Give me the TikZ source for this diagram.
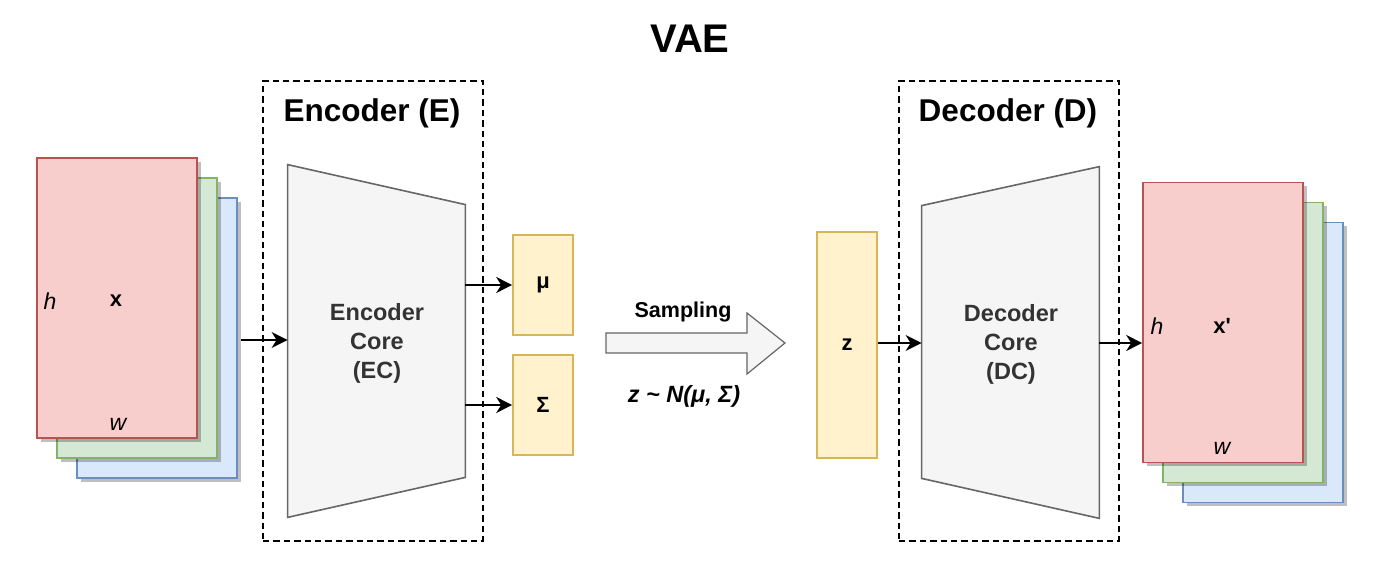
\documentclass[tikz,border=0pt]{standalone}
\usepackage{fontspec}
\setmainfont{Liberation Sans}
\usetikzlibrary{arrows.meta,positioning,calc,shadows,backgrounds}
\definecolor{RedF}{HTML}{F8CECC}
\definecolor{RedD}{HTML}{B85450}
\definecolor{GreenF}{HTML}{D5E8D4}
\definecolor{GreenD}{HTML}{82B366}
\definecolor{BlueF}{HTML}{DAE8FC}
\definecolor{BlueD}{HTML}{6C8EBF}
\definecolor{YelF}{HTML}{FFF2CC}
\definecolor{YelD}{HTML}{D6B656}
\definecolor{CoreF}{HTML}{F5F5F5}
\definecolor{CoreD}{HTML}{666666}
\definecolor{CoreT}{HTML}{333333}
\tikzset{
  >={Stealth[length=8pt,width=8pt,inset=2.5pt]},
  plane/.style={rectangle,line width=.8pt,minimum width=80pt,minimum height=140pt,inner sep=0pt,
    drop shadow={shadow xshift=2pt,shadow yshift=-2pt,fill=black,opacity=.25}},
  redplane/.style={plane,fill=RedF,draw=RedD},
  greenplane/.style={plane,fill=GreenF,draw=GreenD},
  blueplane/.style={plane,fill=BlueF,draw=BlueD},
  vec/.style={rectangle,fill=YelF,draw=YelD,line width=.8pt,minimum width=30pt,minimum height=50pt,
    inner sep=0pt,font=\fontsize{11}{13}\selectfont\bfseries},
  core/.style={minimum width=88.5pt,minimum height=176pt,inner sep=0pt},
  coretext/.style={align=center,inner sep=0pt,text=CoreT,font=\fontsize{11.75}{14.5}\selectfont\bfseries},
  corefill/.style={fill=CoreF,draw=CoreD,line width=.8pt},
  grp/.style={draw,dash pattern=on 3.2pt off 2pt,line width=.75pt,minimum width=110pt,minimum height=230pt},
  grptitle/.style={font=\fontsize{15.75}{18}\selectfont\bfseries},
  dimlab/.style={font=\fontsize{11.5}{13}\selectfont\itshape},
  varlab/.style={font=\fontsize{11}{13}\selectfont\bfseries},
  lab/.style={font=\fontsize{10.75}{12}\selectfont\bfseries},
  flow/.style={->,line width=.75pt},
  bigarrow/.style={fill=CoreF,draw=CoreD,line width=.6pt}
}
\begin{document}
\begin{tikzpicture}[x=.5pt,y=-.5pt]
  \useasboundingbox (0,0) rectangle (1382,582);
  \node[font=\fontsize{20}{24}\selectfont\bfseries] (title) at (690,39) {VAE};
  % input x
  \node[blueplane] (inB) at (157,338) {};
  \node[greenplane] (inG) at (137,318) {};
  \node[redplane] (inR) at (117,298) {};
  \node[dimlab] (inh) at (50,301) {h};
  \node[varlab] (inx) at (116,301) {x};
  \node[dimlab] (inw) at (118,424) {w};
  % encoder
  \node[grp] (enc) at (373,311) {};
  \node[grptitle] (enct) at (372,113) {Encoder (E)};
  \node[core] (ec) at (376.5,341) {};
  \begin{scope}[on background layer]
    \draw[corefill] (ec.north west) -- ([yshift=-20pt]ec.north east) -- ([yshift=20pt]ec.south east) -- (ec.south west) -- cycle;
  \end{scope}
  \node[coretext] (ecl) at (377,343) {Encoder\\Core\\(EC)};
  \node[vec] (mu) at (543,285) {μ};
  \node[vec] (sig) at (543,405) {Σ};
  \draw[flow] ([xshift=1.5pt]inB.east |- 0,340) -- (ec.west |- 0,340);
  \draw[flow] (ec.east |- mu.west) -- (mu.west);
  \draw[flow] (ec.east |- sig.west) -- (sig.west);
  % sampling
  \draw[bigarrow] (606,333) -- (747,333) -- (747,313) -- (785,343) -- (747,374) -- (747,353) -- (606,353) -- cycle;
  \node[lab] (samp) at (683,312) {Sampling};
  \node[lab,font=\fontsize{11.75}{13}\selectfont\bfseries\itshape] (dist) at (684,396) {z \textasciitilde{} N(μ, Σ)};
  % decoder
  \node[vec,minimum height=113pt] (zb) at (847,345) {z};
  \node[grp] (dec) at (1009,311) {};
  \node[grptitle] (dect) at (1008,113) {Decoder (D)};
  \node[core,minimum height=175.5pt] (dc) at (1010.5,342.5) {};
  \begin{scope}[on background layer]
    \draw[corefill] ([yshift=-19.5pt]dc.north west) -- (dc.north east) -- (dc.south east) -- ([yshift=20pt]dc.south west) -- cycle;
  \end{scope}
  \node[coretext] (dcl) at (1011,344) {Decoder\\Core\\(DC)};
  \draw[flow] (zb.east |- 0,343) -- (dc.west |- 0,343);
  % output x'
  \node[blueplane] (outB) at (1263,362.5) {};
  \node[greenplane] (outG) at (1243,342.5) {};
  \node[redplane] (outR) at (1223,322.5) {};
  \node[dimlab] (outh) at (1157,326) {h};
  \node[varlab] (outx) at (1222,326) {x\textquotesingle};
  \node[dimlab] (outw) at (1222,448) {w};
  \draw[flow] (dc.east |- 0,343) -- (outR.west |- 0,343);
\end{tikzpicture}
\end{document}
